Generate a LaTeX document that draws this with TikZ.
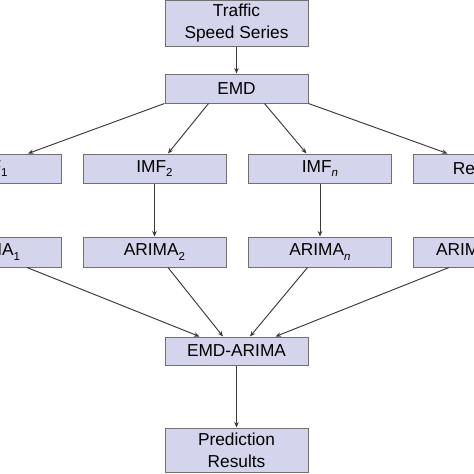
\documentclass[tikz,border=0pt]{standalone}
\usepackage{fontspec}
\setmainfont{Liberation Sans}
\usetikzlibrary{arrows.meta}
\definecolor{boxfill}{RGB}{212,212,236}
\definecolor{boxline}{RGB}{112,112,112}
\definecolor{arrcol}{RGB}{58,58,58}
\newcommand\sbs[1]{\raisebox{-0.28em}{\fontsize{11.5}{12}\selectfont #1}}
\tikzset{
  stagebox/.style={draw=boxline, fill=boxfill, line width=1pt, minimum width=143pt,
    minimum height=29pt, inner sep=0pt, align=center, font=\fontsize{17.3}{22}\selectfont},
  arr/.style={draw=arrcol, line width=0.95pt, -{Stealth[length=5.5pt,width=4.5pt]}}
}
\begin{document}
\begin{tikzpicture}[x=1pt,y=-1pt]
\useasboundingbox (0,0) rectangle (474,474);
\clip (0,0) rectangle (474,474);
\node[stagebox, minimum height=46pt] (tss) at (236.5,23.5) {Traffic\\Speed Series};
\node[stagebox] (emd) at (236.5,88.5) {EMD};
\node[stagebox] (imf1) at (-10.5,168.5) {IMF\sbs{1}};
\node[stagebox] (imf2) at (154.5,168.5) {IMF\sbs{2}};
\node[stagebox] (imfn) at (320,168.5) {IMF\sbs{\itshape n}};
\node[stagebox] (res) at (484.5,168.5) {Residue};
\node[stagebox, minimum height=30pt] (ar1) at (-10.5,252) {ARIMA\sbs{1}};
\node[stagebox, minimum height=30pt] (ar2) at (154.5,252) {ARIMA\sbs{2}};
\node[stagebox, minimum height=30pt] (arn) at (320,252) {ARIMA\sbs{\itshape n}};
\node[stagebox, minimum height=30pt] (arr) at (484.5,252) {ARIMA\sbs{Residue}};
\node[stagebox, minimum height=28pt] (ea) at (236.5,351) {EMD-ARIMA};
\node[stagebox, minimum height=44pt] (pr) at (236.5,450) {Prediction\\Results};
\draw[arr] (tss) -- (emd);
\draw[arr] (emd.south west) -- ([xshift=38.5pt]imf1.north);
\draw[arr] ([xshift=-28pt]emd.south) -- ([xshift=13.5pt]imf2.north);
\draw[arr] ([xshift=28pt]emd.south) -- ([xshift=-13.5pt]imfn.north);
\draw[arr] (emd.south east) -- ([xshift=-37pt]res.north);
\draw[arr] (imf2) -- (ar2);
\draw[arr] (imfn) -- (arn);
\draw[arr] ([xshift=37.5pt]ar1.south) -- ([xshift=-37pt]ea.north);
\draw[arr] ([xshift=13.5pt]ar2.south) -- ([xshift=-13.5pt]ea.north);
\draw[arr] ([xshift=-12.5pt]arn.south) -- ([xshift=13.5pt]ea.north);
\draw[arr] ([xshift=-35.5pt]arr.south) -- ([xshift=39pt]ea.north);
\draw[arr] (ea) -- (pr);
\end{tikzpicture}
\end{document}
